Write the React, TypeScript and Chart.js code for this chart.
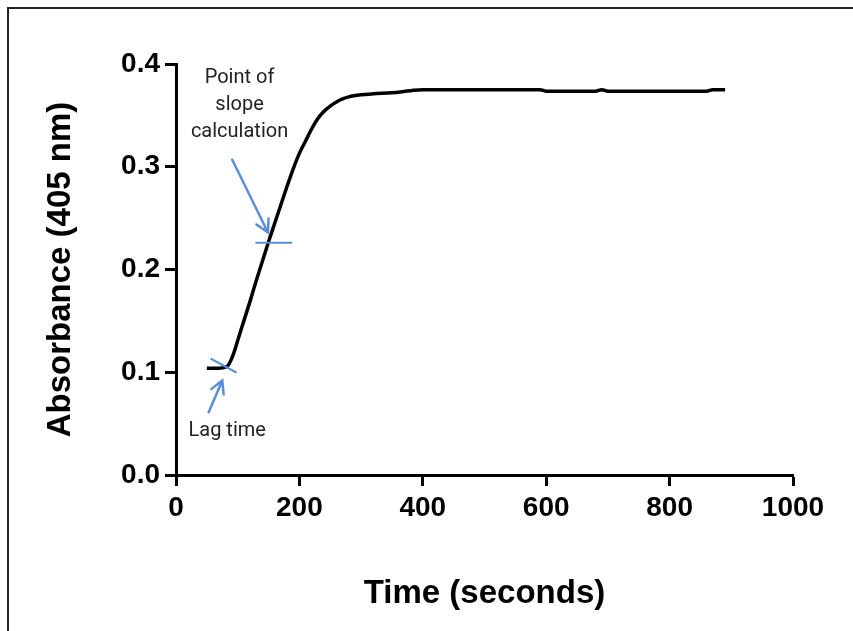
import { useEffect, useRef } from "react";
import { Chart, registerables } from "chart.js";

Chart.register(...registerables);

// ---- data ----
const timeSeconds = [
  50, 60, 70, 80, 85, 90, 95, 100, 110, 120, 130, 140, 150, 160, 170, 180, 190,
  200, 210, 220, 230, 240, 250, 260, 270, 280, 300, 320, 350, 380, 400, 450,
  500, 550, 590, 600, 650, 680, 690, 700, 750, 800, 860, 870, 890,
];
const absorbance = [
  0.104, 0.104, 0.104, 0.105, 0.107, 0.113, 0.121, 0.131, 0.15, 0.169, 0.189,
  0.208, 0.227, 0.245, 0.263, 0.281, 0.298, 0.313, 0.325, 0.337, 0.347, 0.354,
  0.359, 0.363, 0.366, 0.368, 0.37, 0.371, 0.372, 0.374, 0.375, 0.375, 0.375,
  0.375, 0.375, 0.3735, 0.3735, 0.3735, 0.375, 0.3735, 0.3735, 0.3735, 0.3735,
  0.375, 0.375,
];
const xTickValues = [0, 200, 400, 600, 800, 1000];
const yTickValues = [0, 0.1, 0.2, 0.3, 0.4];
const xTitle = "Time (seconds)";
const yTitle = "Absorbance (405 nm)";
const lagLabel = ["Lag time"];
const slopeLabel = ["Point of", "slope", "calculation"];

// annotation anchors (data units: [time, absorbance])
const lagMark = [[57, 0.113], [97, 0.1]];
const lagArrow = [[53, 0.061], [75, 0.092]];
const slopeMark = [[130, 0.226], [187, 0.226]];
const slopeArrow = [[91, 0.307], [149, 0.236]];
const lagLabelAt = [83, 0.043];
const slopeLabelAt = [103, 0.386];

const BLUE = "#5a8fd8";
const TICK_FONT = { family: "'Liberation Sans', Arial, sans-serif", size: 28, weight: "bold" as const };
const TITLE_FONT = { family: "'Liberation Sans', Arial, sans-serif", size: 33, weight: "bold" as const };

const framePlugin = {
  id: "frame",
  beforeDraw(chart: any) {
    const ctx = chart.ctx;
    ctx.save();
    ctx.fillStyle = "#fff";
    ctx.fillRect(0, 0, chart.width, chart.height);
    ctx.strokeStyle = "#222";
    ctx.lineWidth = 2;
    ctx.beginPath();
    ctx.moveTo(8, chart.height);
    ctx.lineTo(8, 8);
    ctx.lineTo(chart.width, 8);
    ctx.stroke();
    ctx.restore();
  },
};

const annotationPlugin = {
  id: "annotations",
  afterDatasetsDraw(chart: any) {
    const { ctx, scales } = chart;
    const px = (p: number[]) => [scales.x.getPixelForValue(p[0]), scales.y.getPixelForValue(p[1])];
    ctx.save();
    ctx.strokeStyle = BLUE;
    ctx.lineCap = "round";
    ctx.lineWidth = 2;
    const seg = (a: number[], b: number[]) => {
      const [x0, y0] = px(a);
      const [x1, y1] = px(b);
      ctx.beginPath();
      ctx.moveTo(x0, y0);
      ctx.lineTo(x1, y1);
      ctx.stroke();
    };
    const arrow = (a: number[], b: number[]) => {
      const [x0, y0] = px(a);
      const [x1, y1] = px(b);
      ctx.lineWidth = 2.5;
      ctx.beginPath();
      ctx.moveTo(x0, y0);
      ctx.lineTo(x1, y1);
      const ang = Math.atan2(y1 - y0, x1 - x0);
      const L = 14;
      ctx.moveTo(x1 - L * Math.cos(ang - 0.5), y1 - L * Math.sin(ang - 0.5));
      ctx.lineTo(x1, y1);
      ctx.lineTo(x1 - L * Math.cos(ang + 0.5), y1 - L * Math.sin(ang + 0.5));
      ctx.stroke();
    };
    seg(lagMark[0], lagMark[1]);
    seg(slopeMark[0], slopeMark[1]);
    arrow(lagArrow[0], lagArrow[1]);
    arrow(slopeArrow[0], slopeArrow[1]);

    ctx.fillStyle = "#222";
    ctx.font = "20px Roboto, 'Liberation Sans', sans-serif";
    ctx.textAlign = "center";
    ctx.textBaseline = "middle";
    const [lx, ly] = px(lagLabelAt);
    lagLabel.forEach((t, i) => ctx.fillText(t, lx, ly + i * 27));
    const [sx, sy] = px(slopeLabelAt);
    slopeLabel.forEach((t, i) => ctx.fillText(t, sx, sy + i * 27));
    ctx.restore();
  },
};

export default function App() {
  const ref = useRef<HTMLCanvasElement | null>(null);
  useEffect(() => {
    if (!ref.current) return;
    const chart = new Chart(ref.current, {
      type: "line",
      data: {
        datasets: [
          {
            data: timeSeconds.map((t, i) => ({ x: t, y: absorbance[i] })),
            borderColor: "#000",
            borderWidth: 3.5,
            pointRadius: 0,
            fill: false,
            cubicInterpolationMode: "monotone",
          },
        ],
      },
      options: {
        animation: false,
        responsive: false,
        layout: { padding: { left: 41, right: 60, top: 64, bottom: 17 } },
        plugins: { legend: { display: false }, tooltip: { enabled: false } },
        scales: {
          x: {
            type: "linear",
            min: 0,
            max: 1000,
            afterBuildTicks: (s: any) => {
              s.ticks = xTickValues.map((v) => ({ value: v }));
            },
            ticks: {
              font: TICK_FONT,
              color: "#000",
              padding: 5,
              maxRotation: 0,
              callback: (v: any) => String(v),
            },
            grid: {
              drawOnChartArea: false,
              drawTicks: true,
              tickLength: 11,
              tickWidth: 3,
              tickColor: "#000",
            },
            border: { display: true, color: "#000", width: 3 },
            title: { display: true, text: xTitle, font: TITLE_FONT, color: "#000", padding: 0 },
            afterFit: (s: any) => {
              s.height = 139;
            },
          },
          y: {
            type: "linear",
            min: 0,
            max: 0.4,
            afterBuildTicks: (s: any) => {
              s.ticks = yTickValues.map((v) => ({ value: v }));
            },
            ticks: {
              font: TICK_FONT,
              color: "#000",
              padding: 5,
              callback: (v: any) => Number(v).toFixed(1),
            },
            grid: {
              drawOnChartArea: false,
              drawTicks: true,
              tickLength: 11,
              tickWidth: 3,
              tickColor: "#000",
            },
            border: { display: true, color: "#000", width: 3 },
            title: { display: true, text: yTitle, font: TITLE_FONT, color: "#000", padding: 0 },
            afterFit: (s: any) => {
              s.width = 135;
            },
          },
        },
      },
      plugins: [framePlugin, annotationPlugin],
    });
    return () => chart.destroy();
  }, []);
  return (
    <canvas
      ref={ref}
      width={853}
      height={631}
      style={{ position: "absolute", left: 0, top: 0, display: "block", width: 853, height: 631 }}
    />
  );
}
